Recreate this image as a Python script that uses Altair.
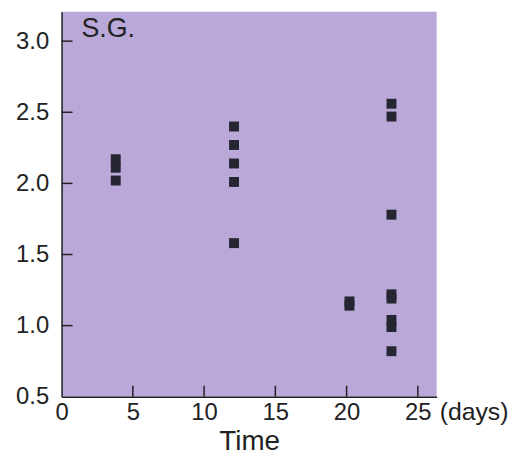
import altair as alt
import pandas as pd

# Data
time_days = [3.8, 3.8, 3.8,
             12.1, 12.1, 12.1, 12.1, 12.1,
             20.2, 20.2,
             23.15, 23.15, 23.15, 23.15, 23.15, 23.15, 23.15, 23.15]
sg_values = [2.17, 2.11, 2.02,
             2.40, 2.27, 2.14, 2.01, 1.58,
             1.17, 1.14,
             2.56, 2.47, 1.78, 1.22, 1.19, 1.04, 0.99, 0.82]
x_ticks = [0, 5, 10, 15, 20, 25]
y_ticks = [0.5, 1.0, 1.5, 2.0, 2.5, 3.0]

W, H = 378, 388
FONT = "Liberation Sans"
BG = "#baa8d9"
INK = "#262633"

pts = pd.DataFrame({"t": time_days, "sg": sg_values})
xt = pd.DataFrame({"t": x_ticks[1:]})
yt = pd.DataFrame({"sg": y_ticks[1:]})

xscale = alt.Scale(domain=[0, 26.32], nice=False, zero=False)
yscale = alt.Scale(domain=[0.5, 3.207], nice=False, zero=False)

points = alt.Chart(pts).mark_square(size=100, color=INK, opacity=1).encode(
    x=alt.X("t:Q", scale=xscale,
            axis=alt.Axis(values=x_ticks, title="Time", format="d", ticks=False,
                          grid=False, labelPadding=4, labelFontSize=24,
                          labelFlush=False,
                          titleFontSize=28, titleFontWeight="normal",
                          titlePadding=3, domainColor="#222", domainWidth=1.5,
                          labelColor="#222", titleColor="#222")),
    y=alt.Y("sg:Q", scale=yscale,
            axis=alt.Axis(values=y_ticks, title=None, format=".1f", ticks=False,
                          grid=False, labelPadding=13, labelFontSize=24,
                          labelFlush=False,
                          domainColor="#222", domainWidth=1.5,
                          labelColor="#222")),
)

xticks = alt.Chart(xt).mark_rule(color="#222", strokeWidth=1.5).encode(
    x=alt.X("t:Q", scale=xscale),
    y=alt.value(H),
    y2=alt.value(H - 11),
)

yticks = alt.Chart(yt).mark_rule(color="#222", strokeWidth=1.5).encode(
    y=alt.Y("sg:Q", scale=yscale),
    x=alt.value(0),
    x2=alt.value(11),
)

sg_label = alt.Chart(pd.DataFrame({"s": ["S.G."]})).mark_text(
    align="left", baseline="alphabetic", fontSize=27, font=FONT, color="#222"
).encode(text="s:N", x=alt.value(20), y=alt.value(25))

days_label = alt.Chart(pd.DataFrame({"s": ["(days)"]})).mark_text(
    align="left", baseline="alphabetic", fontSize=25, font=FONT, color="#222"
).encode(text="s:N", x=alt.value(W + 3), y=alt.value(H + 23))

chart = alt.layer(points, xticks, yticks, sg_label, days_label).properties(
    width=W, height=H,
    autosize=alt.AutoSizeParams(type="none"),
    padding={"left": 54, "top": 2, "right": 85, "bottom": 61},
    background="white",
).configure_view(fill=BG, stroke=None).configure_axis(
    labelFont=FONT, titleFont=FONT
)

chart.save("out.html", embed_options={"renderer": "svg", "actions": False})
